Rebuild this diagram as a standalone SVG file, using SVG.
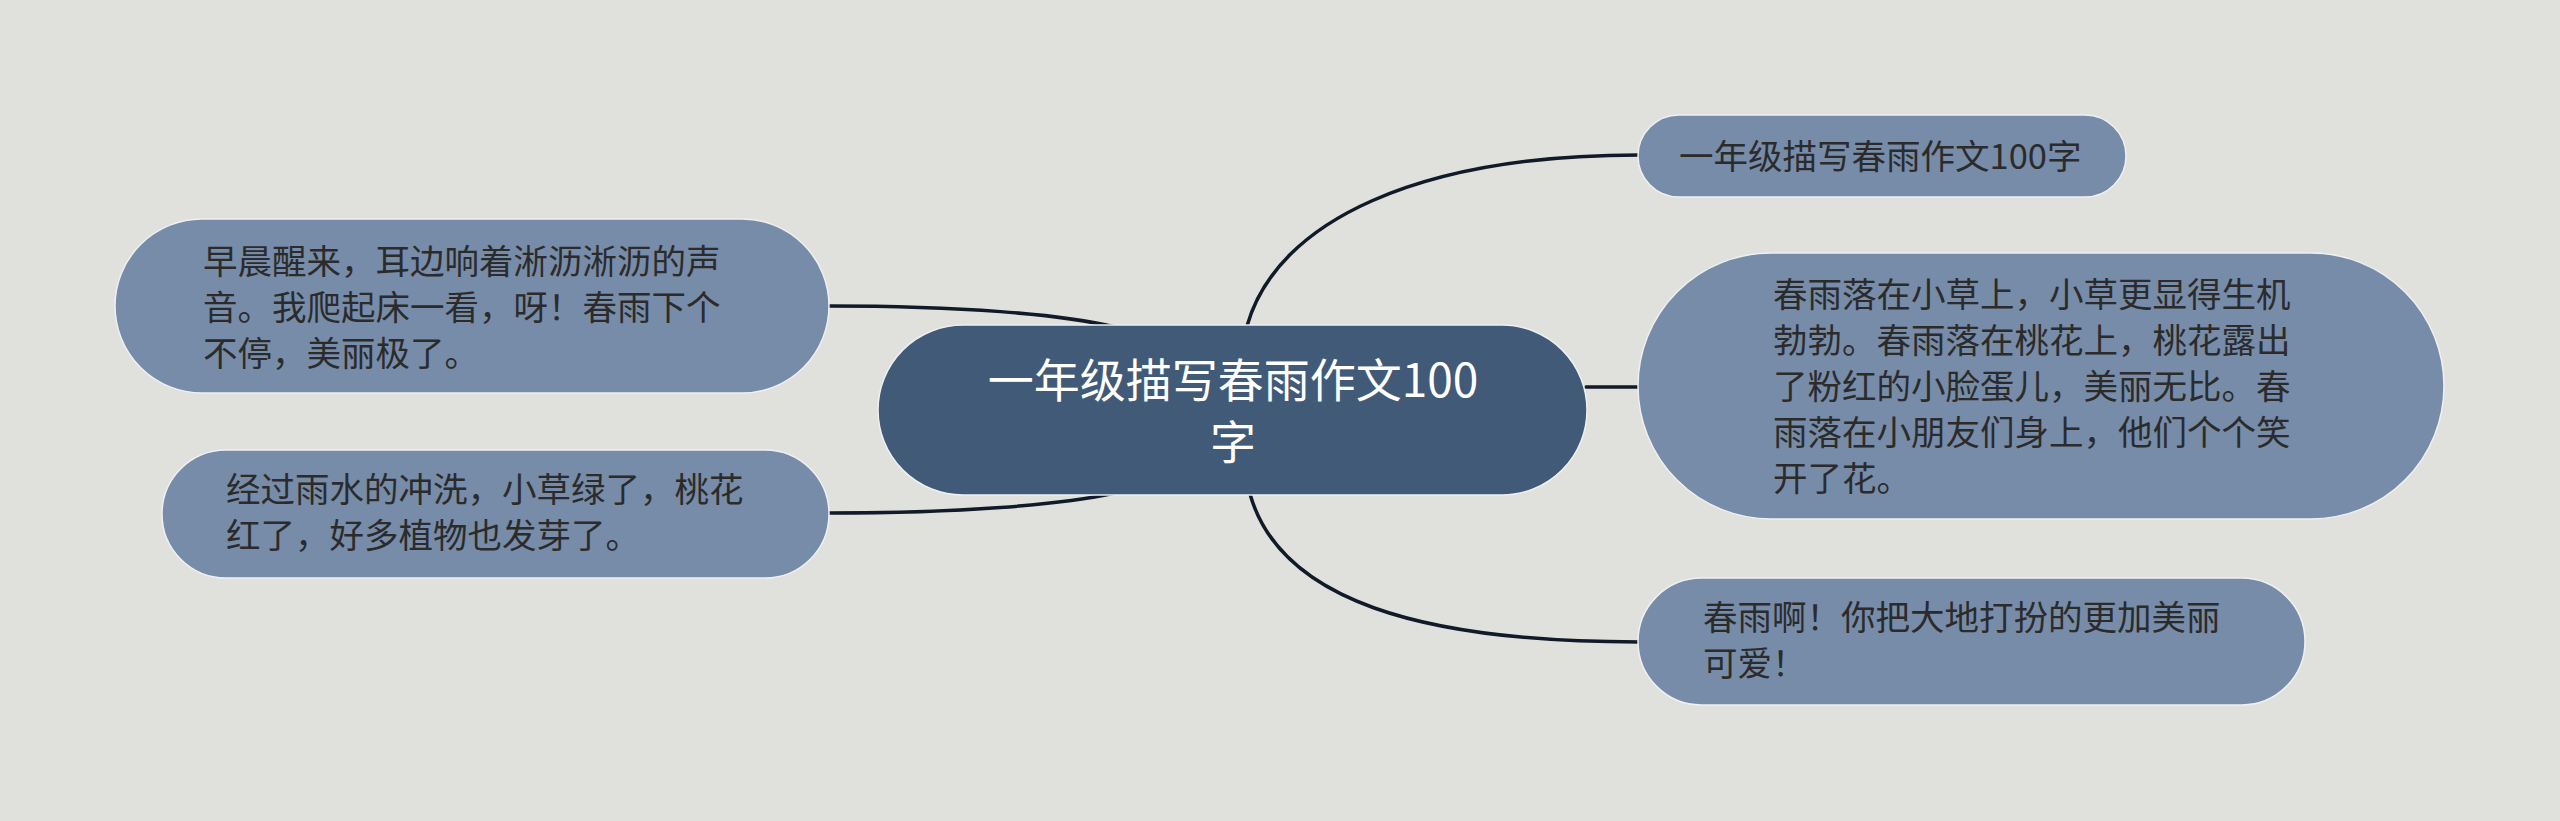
<svg xmlns="http://www.w3.org/2000/svg" width="2560" height="821" viewBox="0 0 2560 821">
<style>
.bg{fill:#e0e1dd}
.conn{fill:none;stroke:#111a29;stroke-width:3.5;stroke-linecap:round}
.main{fill:#415a78;stroke:#eef0f2;stroke-width:1.5}
.sub{fill:#778ca8;stroke:#eef0f2;stroke-width:1.5}
.tm{font-family:"Noto Sans CJK SC","Noto Sans",sans-serif;font-size:46px;fill:#ffffff;text-anchor:middle}
.ts{font-family:"Noto Sans CJK SC","Noto Sans",sans-serif;font-size:34.5px;fill:#2b2b2b}
</style>
<rect class="bg" x="0" y="0" width="2560" height="821"/>
<g id="connectors">
<path class="conn" d="M1247 326 C1277 220 1420 155 1639 155"/>
<path class="conn" d="M1586 387 L1639 387"/>
<path class="conn" d="M1250 494 C1280 600 1420 642 1639 642"/>
<path class="conn" d="M829 306 C960 306 1060 314 1115 327"/>
<path class="conn" d="M829 513 C960 513 1060 505 1115 493"/>
</g>
<g id="center">
<rect class="main" x="878" y="325" width="709" height="170" rx="85"/>
<text class="tm" x="1233" y="397">一年级描写春雨作文100</text>
<text class="tm" x="1233" y="459">字</text>
</g>
<g id="left1">
<rect class="sub" x="115" y="219" width="714" height="174" rx="87"/>
<text class="ts" x="203" y="274">早晨醒来，耳边响着淅沥淅沥的声</text>
<text class="ts" x="203" y="320">音。我爬起床一看，呀！春雨下个</text>
<text class="ts" x="203" y="366">不停，美丽极了。</text>
</g>
<g id="left2">
<rect class="sub" x="162" y="450" width="667" height="128" rx="64"/>
<text class="ts" x="226" y="502">经过雨水的冲洗，小草绿了，桃花</text>
<text class="ts" x="226" y="548">红了，好多植物也发芽了。</text>
</g>
<g id="right1">
<rect class="sub" x="1638" y="115" width="488" height="82" rx="41"/>
<text class="ts" x="1679" y="169">一年级描写春雨作文100字</text>
</g>
<g id="right2">
<rect class="sub" x="1638" y="253" width="806" height="266" rx="133"/>
<text class="ts" x="1773" y="307">春雨落在小草上，小草更显得生机</text>
<text class="ts" x="1773" y="353">勃勃。春雨落在桃花上，桃花露出</text>
<text class="ts" x="1773" y="399">了粉红的小脸蛋儿，美丽无比。春</text>
<text class="ts" x="1773" y="445">雨落在小朋友们身上，他们个个笑</text>
<text class="ts" x="1773" y="491">开了花。</text>
</g>
<g id="right3">
<rect class="sub" x="1638" y="578" width="667" height="127" rx="63.5"/>
<text class="ts" x="1703" y="630">春雨啊！你把大地打扮的更加美丽</text>
<text class="ts" x="1703" y="676">可爱！</text>
</g>
</svg>
